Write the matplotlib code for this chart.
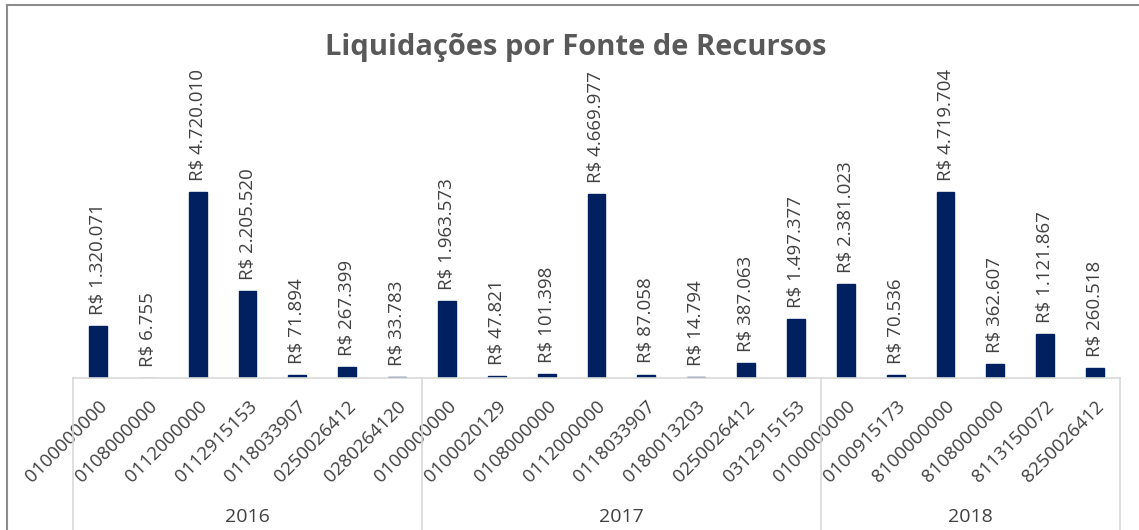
import matplotlib
matplotlib.use("Agg")
import matplotlib.pyplot as plt
from matplotlib.lines import Line2D

plt.rcParams['font.family'] = ['Open Sans', 'DejaVu Sans']

years = ["2016", "2017", "2018"]
codes_2016 = ["0100000000", "0108000000", "0112000000", "0112915153", "0118033907", "0250026412", "0280264120"]
values_2016 = [1320071, 6755, 4720010, 2205520, 71894, 267399, 33783]
codes_2017 = ["0100000000", "0100020129", "0108000000", "0112000000", "0118033907", "0180013203", "0250026412", "0312915153"]
values_2017 = [1963573, 47821, 101398, 4669977, 87058, 14794, 387063, 1497377]
codes_2018 = ["0100000000", "0100915173", "8100000000", "8108000000", "8113150072", "8250026412"]
values_2018 = [2381023, 70536, 4719704, 362607, 1121867, 260518]

groups = [codes_2016, codes_2017, codes_2018]
codes = codes_2016 + codes_2017 + codes_2018
values = values_2016 + values_2017 + values_2018

BAR = "#002060"
TXT = "#404040"

W, H = 1139, 530
fig = plt.figure(figsize=(W / 100, H / 100), dpi=100)
fig.patch.set_facecolor("white")

ax_left, ax_right = 73, 1120
ax_bottom, ax_top = 378, 65
ax = fig.add_axes([ax_left / W, (H - ax_bottom) / H, (ax_right - ax_left) / W, (ax_bottom - ax_top) / H])
ax.set_facecolor("white")

x = list(range(len(values)))
ax.bar(x, values, width=0.36, color=BAR, edgecolor=BAR, linewidth=1.0)
ax.set_xlim(-0.5, len(values) - 0.5)
ax.set_ylim(0, 4720010 * 313 / 186)

def fmt(v):
    return "R$ " + f"{v:,}".replace(",", ".")

for xi, v in zip(x, values):
    ax.annotate(fmt(v), (xi, v), xytext=(0, 8), textcoords="offset points",
                rotation=90, ha="center", va="bottom", fontsize=13.5, color=TXT)

for s in ax.spines.values():
    s.set_visible(False)
ax.set_yticks([])
ax.set_xticks(x)
ax.set_xticklabels(codes, rotation=45, ha="right", va="top", rotation_mode="anchor",
                   fontsize=13.5, color=TXT)
ax.tick_params(axis="x", length=0, pad=14)

trans = ax.get_xaxis_transform()
ax.add_line(Line2D([-0.5, len(values) - 0.5], [0, 0], transform=trans, color="#d9d9d9", lw=1.2, clip_on=False))
bounds = [-0.5]
start = -0.5
for g in groups:
    start += len(g)
    bounds.append(start)
for b in bounds:
    ax.add_line(Line2D([b, b], [0, -160 / 313], transform=trans, color="#d9d9d9", lw=1.2, clip_on=False))
for i, yr in enumerate(years):
    cx = (bounds[i] + bounds[i + 1]) / 2
    ax.text(cx, -139 / 313, yr, transform=trans, ha="center", va="center", fontsize=14, color=TXT)

fig.text(576 / W, 1 - 47 / H, "Liquidações por Fonte de Recursos", ha="center", va="center",
         fontsize=21, fontweight="bold", color="#595959")

fig.add_artist(Line2D([7 / W, 7 / W], [0, 1 - 5 / H], transform=fig.transFigure, color="#8c8c8c", lw=1.5))
fig.add_artist(Line2D([7 / W, 1], [1 - 5 / H, 1 - 5 / H], transform=fig.transFigure, color="#8c8c8c", lw=1.5))

fig.savefig("out.png", dpi=100, facecolor="white")
